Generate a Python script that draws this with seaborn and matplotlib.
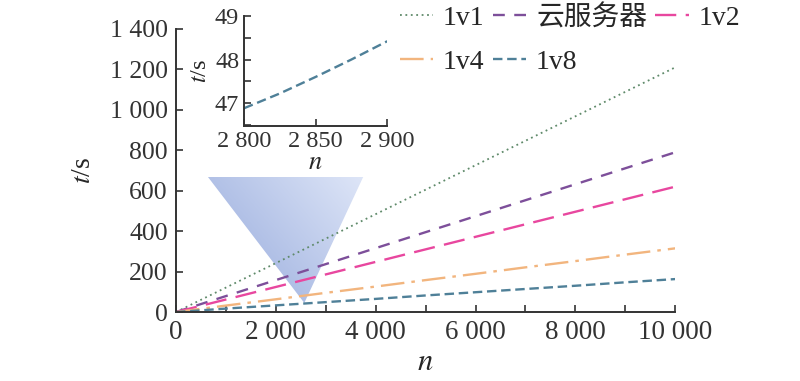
import numpy as np
import pandas as pd
import matplotlib
matplotlib.use("Agg")
import matplotlib.pyplot as plt
from matplotlib.patches import Polygon
from matplotlib.ticker import MultipleLocator, FuncFormatter
import seaborn as sns

# ---- data ----
n_vals = [0, 1000, 2000, 3000, 4000, 5000, 6000, 7000, 8000, 9000, 10000]
t_1v1 = [0, 121, 242, 363, 484, 605, 726, 847, 968, 1089, 1210]
t_cloud = [0, 79, 158, 237, 316, 395, 474, 553, 632, 711, 790]
t_1v2 = [0, 62, 124, 186, 248, 310, 372, 434, 496, 558, 620]
t_1v4 = [0, 32, 63, 95, 126, 158, 189, 221, 252, 284, 315]
t_1v8 = [0, 17, 33, 49, 65, 82, 98, 114, 130, 147, 163]
series_names = ["1v1", "云服务器", "1v2", "1v4", "1v8"]

inset_n = [2800, 2825, 2850, 2875, 2900]
inset_t = [46.88, 47.22, 47.6, 48.0, 48.42]

colors = ["#5f8a6a", "#7d4f9a", "#e8479f", "#f2b57e", "#4f8098"]
dashes = [(1, 2), (5, 4), (9, 4), (10, 3, 1.5, 3), (4, 2)]
lws = [1.3, 1.7, 1.7, 1.7, 1.7]

sns.set_style("ticks")
plt.rcParams["font.family"] = ["Liberation Serif", "Noto Sans CJK SC"]
plt.rcParams["mathtext.fontset"] = "stix"
plt.rcParams["axes.edgecolor"] = "#333333"
plt.rcParams["xtick.color"] = "#333333"
plt.rcParams["ytick.color"] = "#333333"

df = pd.DataFrame({"n": n_vals * 5,
                   "t": t_1v1 + t_cloud + t_1v2 + t_1v4 + t_1v8,
                   "series": sum([[s] * len(n_vals) for s in series_names], [])})

fig = plt.figure(figsize=(8, 3.81), dpi=100)
ax = fig.add_axes([0.22, 0.181, 0.624, 0.743])

for i, s in enumerate(series_names):
    sub = df[df["series"] == s]
    sns.lineplot(data=sub, x="n", y="t", ax=ax, color=colors[i], lw=lws[i],
                 dashes=False, label=s, legend=False).lines[-1].set_dashes(dashes[i])

ax.set_xlim(0, 10000)
ax.set_ylim(0, 1400)
sns.despine(ax=ax)
fmt = FuncFormatter(lambda v, p: f"{int(round(v)):,}".replace(",", " "))
ax.xaxis.set_major_locator(MultipleLocator(2000))
ax.xaxis.set_minor_locator(MultipleLocator(1000))
ax.yaxis.set_major_locator(MultipleLocator(200))
ax.xaxis.set_major_formatter(fmt)
ax.yaxis.set_major_formatter(fmt)
ax.tick_params(axis="both", which="both", direction="in", length=5, width=1.2)
ax.tick_params(axis="x", labelsize=19.5, pad=6)
ax.tick_params(axis="y", labelsize=18.5, pad=6)
for sp in ax.spines.values():
    sp.set_linewidth(1.4)
ax.set_xlabel("$n$", fontsize=22, labelpad=2)
ax.set_ylabel("$t$/s", fontsize=20, labelpad=10)

handles, labels = ax.get_legend_handles_labels()
order = [0, 3, 1, 4, 2]
leg = fig.legend([handles[i] for i in order], [labels[i] for i in order], ncol=3,
                 loc="upper left", bbox_to_anchor=(400 / 800, 1 - 5 / 381),
                 frameon=False, fontsize=20, handlelength=1.2, handletextpad=0.35,
                 columnspacing=0.3, labelspacing=0.65, borderpad=0, borderaxespad=0)

# gradient triangle
tri = [(640, 668), (3750, 668), (2570, 45)]
poly = Polygon(tri, closed=True, facecolor="none", edgecolor="none", transform=ax.transData)
ax.add_patch(poly)
gx, gy = np.meshgrid(np.linspace(0, 1, 200), np.linspace(0, 1, 200))
g = 0.6 * gx + 0.4 * gy
c0 = np.array([0.58, 0.66, 0.86])
c1 = np.array([0.87, 0.90, 0.97])
img = c0[None, None, :] * (1 - g[..., None]) + c1[None, None, :] * g[..., None]
im = ax.imshow(img, extent=(640, 3750, 45, 668), origin="lower", aspect="auto", zorder=0.5)
im.set_clip_path(poly)
ax.set_xlim(0, 10000)
ax.set_ylim(0, 1400)

# inset
axi = fig.add_axes([0.305, 0.669, 0.179, 0.289])
sns.lineplot(x=inset_n, y=inset_t, ax=axi, color=colors[4], lw=1.7).lines[-1].set_dashes((4, 2))
axi.set_xlim(2800, 2900)
axi.set_ylim(46.47, 49)
sns.despine(ax=axi)
axi.xaxis.set_major_locator(MultipleLocator(50))
axi.yaxis.set_major_locator(MultipleLocator(1))
axi.yaxis.set_minor_locator(MultipleLocator(0.5))
axi.xaxis.set_major_formatter(fmt)
axi.tick_params(axis="both", which="both", direction="in", labelsize=17.5, length=5, width=1.2)
for sp in axi.spines.values():
    sp.set_linewidth(1.4)
axi.patch.set_alpha(0)
axi.set_xlabel("$n$", fontsize=19, labelpad=0)
axi.set_ylabel("$t$/s", fontsize=17.5, labelpad=3)

fig.savefig("out.png", dpi=100)
